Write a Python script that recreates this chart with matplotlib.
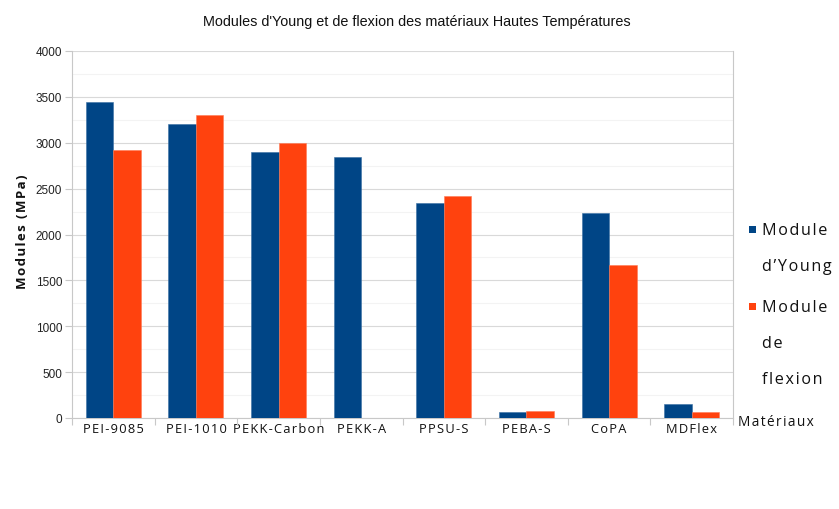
import matplotlib
matplotlib.use("Agg")
import matplotlib.pyplot as plt
from matplotlib.patches import Rectangle
from matplotlib.ticker import MultipleLocator
import numpy as np

categories = ["PEI-9085", "PEI-1010", "PEKK-Carbon", "PEKK-A", "PPSU-S", "PEBA-S", "CoPA", "MDFlex"]
young = [3440, 3200, 2900, 2850, 2340, 70, 2230, 155]
flexion = [2920, 3300, 3000, 0, 2420, 80, 1670, 70]
yticks = [0, 500, 1000, 1500, 2000, 2500, 3000, 3500, 4000]
title = "Modules d'Young et de flexion des matériaux Hautes Températures"

BLUE = "#004586"
ORANGE = "#ff420e"
SANS = ["Open Sans", "DejaVu Sans"]
NARROW = ["Liberation Sans Narrow", "Liberation Sans", "DejaVu Sans"]


def spaced(s, sep="\u200a"):
    return sep.join(s)


fig = plt.figure(figsize=(8.39, 5.10), dpi=100)
ax = fig.add_axes([72 / 839, 1 - 419 / 510, (733 - 72) / 839, (419 - 52) / 510])

x = np.arange(len(categories))
w = 0.333
ax.bar(x - w / 2, young, width=w, color=BLUE, edgecolor="#3a6fa3", linewidth=0.4, zorder=3)
ax.bar(x + w / 2, flexion, width=w, color=ORANGE, edgecolor="#ff7a55", linewidth=0.4, zorder=3)

ax.set_xlim(-0.5, len(categories) - 0.5)
ax.set_ylim(0, 4000)
ax.set_yticks(yticks)
ax.yaxis.set_minor_locator(MultipleLocator(250))
ax.grid(axis="y", which="major", color="#d9d9d9", linewidth=0.8, zorder=0)
ax.grid(axis="y", which="minor", color="#f3f3f3", linewidth=0.8, zorder=0)
ax.set_axisbelow(True)

ax.set_xticks(x)
ax.set_xticklabels([spaced(c) for c in categories], fontfamily=SANS, fontsize=9.3, color="#111111")
ax.set_xticks(np.arange(-0.5, len(categories)), minor=True)
ax.tick_params(axis="x", which="major", length=0, pad=3)
ax.tick_params(axis="x", which="minor", length=5, color="#c8c8c8", width=0.8)
ax.tick_params(axis="y", which="major", length=5, color="#c8c8c8", width=0.8, pad=2,
               labelsize=8.5, labelcolor="#222222")
ax.tick_params(axis="y", which="minor", length=0)
for lab in ax.get_yticklabels():
    lab.set_fontfamily(NARROW)

for side in ["left", "right", "bottom"]:
    ax.spines[side].set_color("#c8c8c8")
    ax.spines[side].set_linewidth(0.8)
ax.spines["top"].set_visible(False)

ax.set_ylabel(spaced("Modules (MPa)"), fontfamily=SANS, fontsize=9.5, fontweight="bold",
              color="#111111", labelpad=1)
ax.yaxis.set_label_coords(-43 / 661, 0.51)

fig.text(417 / 839, 1 - 22 / 510, title, ha="center", va="center",
         fontfamily=NARROW, fontsize=10.4, color="#111111")

fig.text(738 / 839, 1 - 423 / 510, spaced("Matériaux"), ha="left", va="center",
         fontfamily=SANS, fontsize=9.8, color="#111111")

# legend
leg_items = [(BLUE, ["Module", "d\u2019Young"], 230), (ORANGE, ["Module", "de", "flexion"], 307)]
for color, lines, ytop in leg_items:
    fig.patches.append(Rectangle(((749) / 839, 1 - (ytop + 4) / 510), 7 / 839, 7 / 510,
                                 transform=fig.transFigure, facecolor=color, edgecolor="none"))
    for k, line in enumerate(lines):
        fig.text(762 / 839, 1 - (ytop + 1 + 36 * k) / 510, spaced(line), ha="left", va="center",
                 fontfamily=SANS, fontsize=11.6, color="#111111")

fig.savefig("out.png", dpi=100)
